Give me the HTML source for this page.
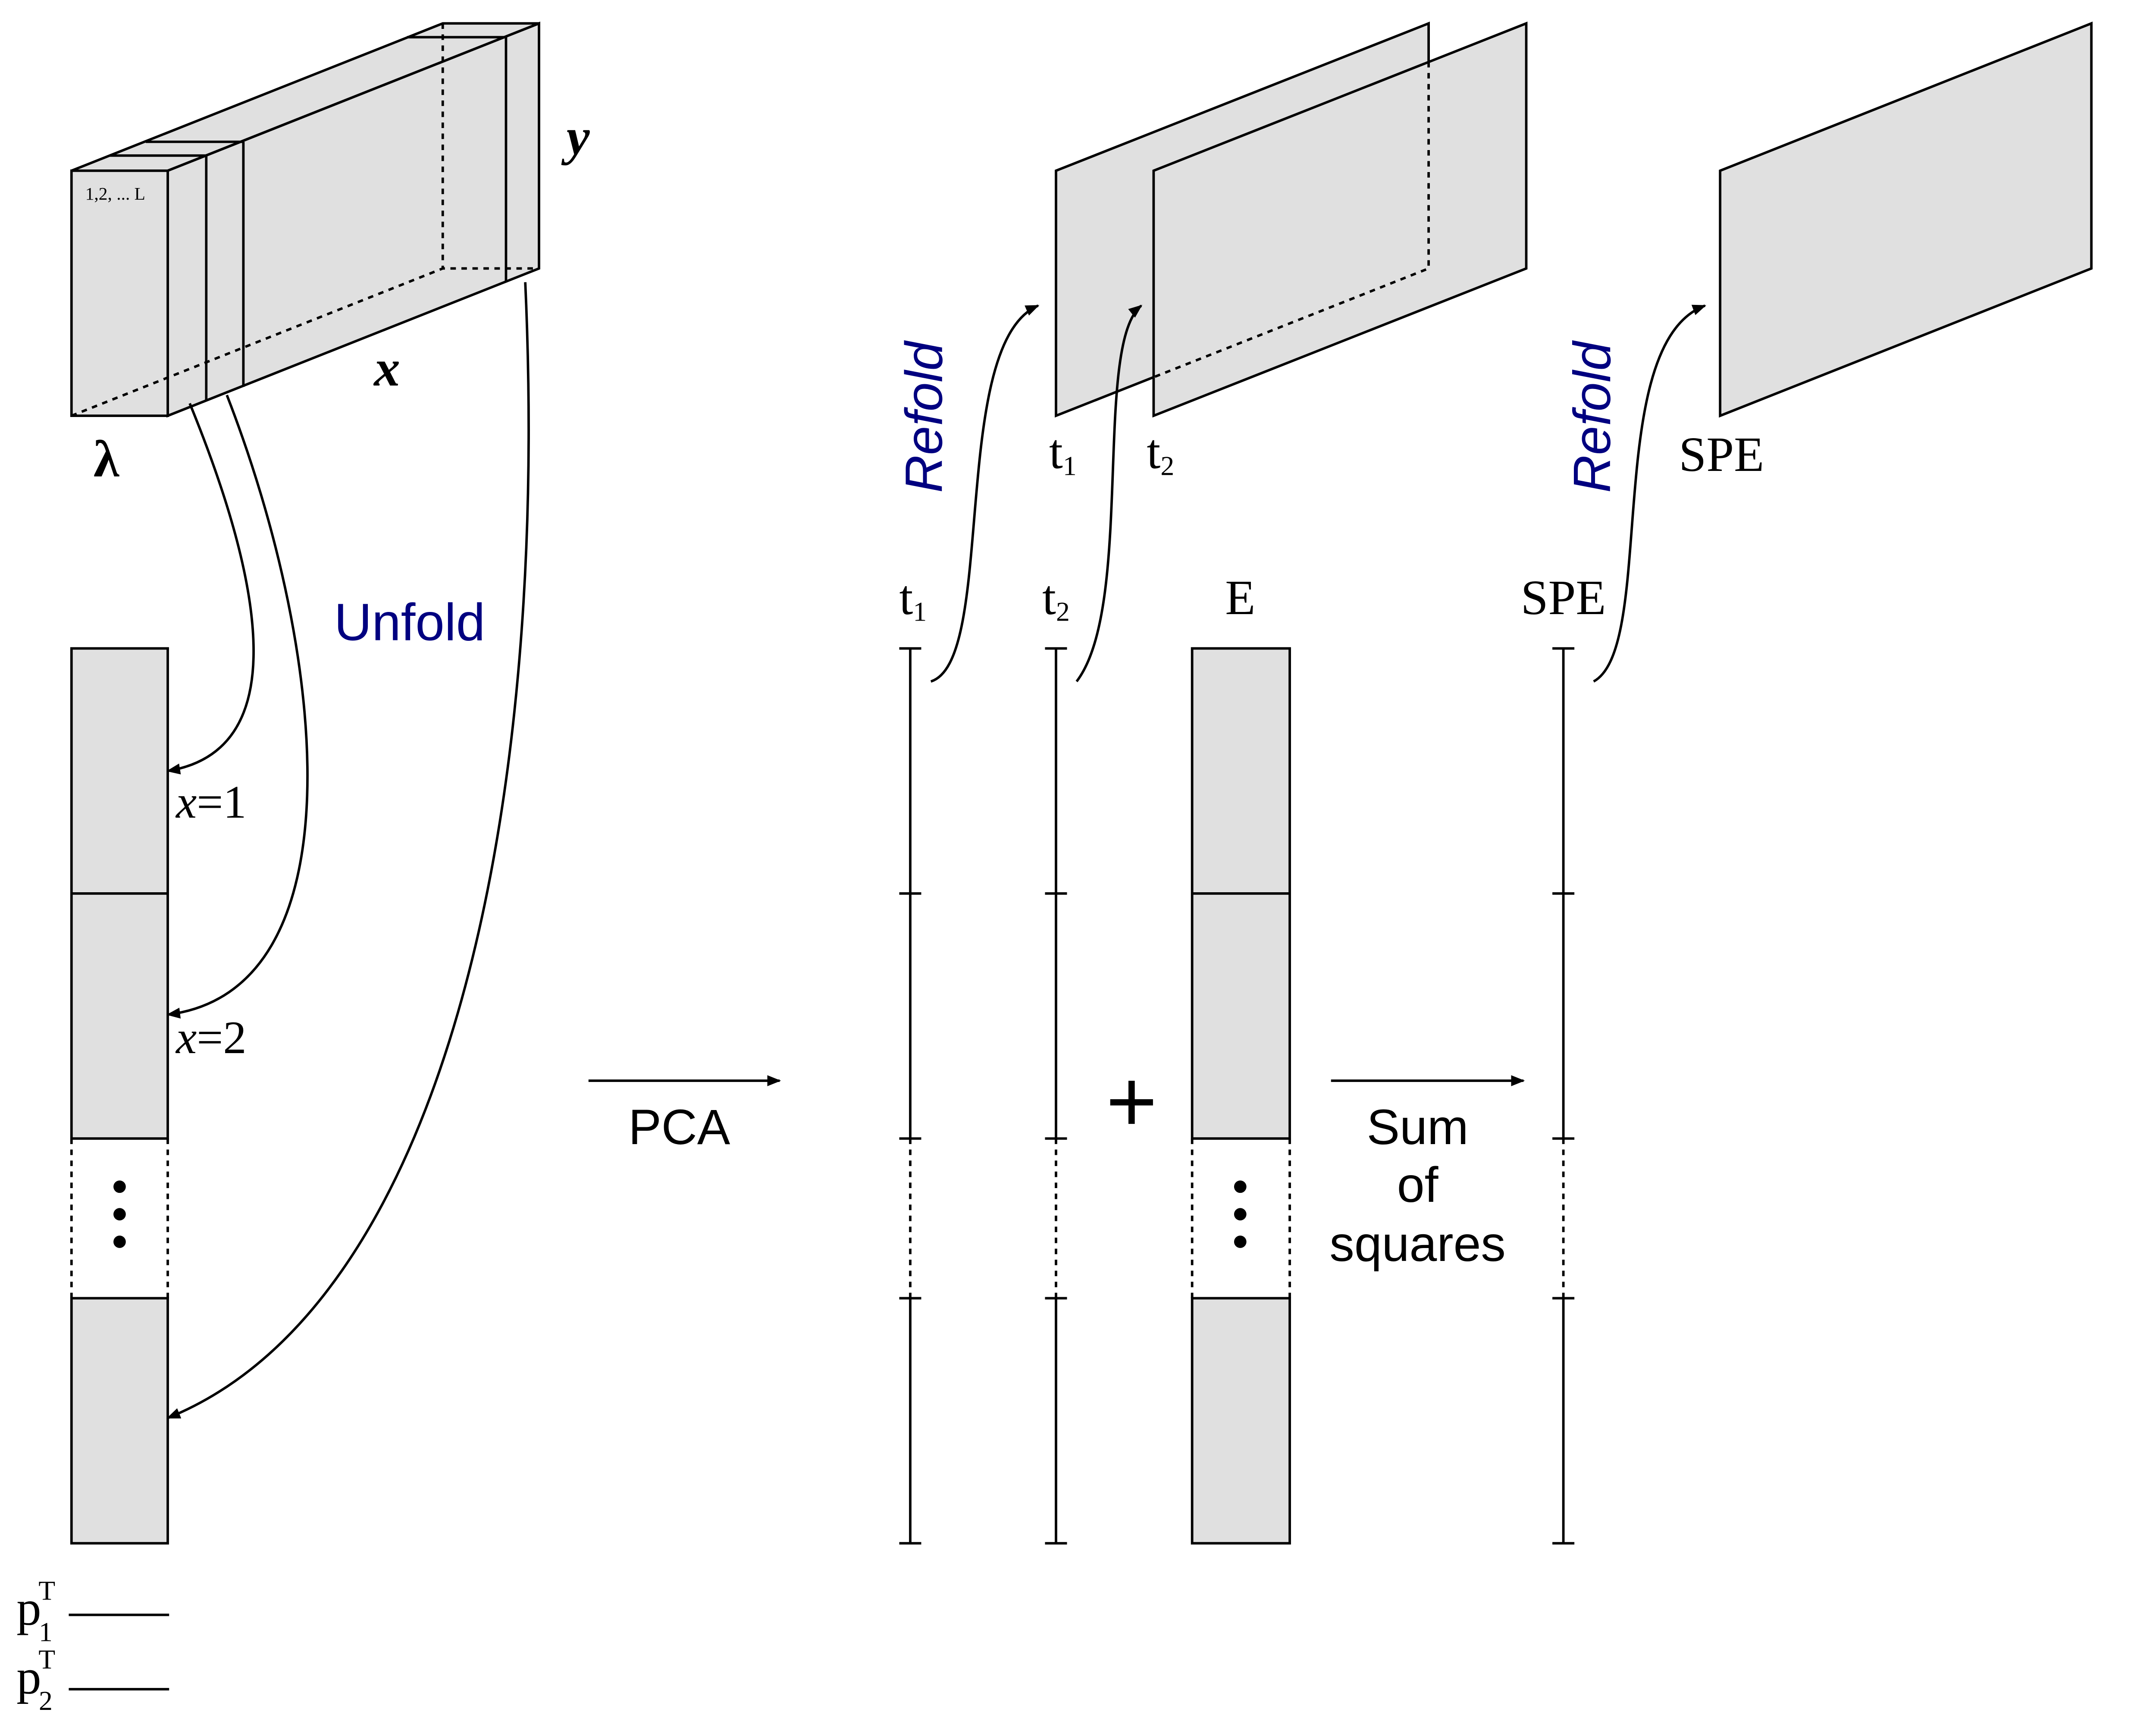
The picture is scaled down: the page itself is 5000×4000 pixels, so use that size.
<!DOCTYPE html>
<html><head><meta charset="utf-8"><style>html,body{margin:0;padding:0;background:#fff}svg{display:block}</style></head>
<body>
<svg width="5000" height="4000" viewBox="0 0 1568 1253" preserveAspectRatio="none" xmlns="http://www.w3.org/2000/svg">
<defs><marker id="ah" markerWidth="10" markerHeight="8" refX="9" refY="4" orient="auto" markerUnits="userSpaceOnUse"><path d="M0,0 L10,4 L0,8 Z" fill="#000"/></marker></defs>
<g stroke="#000" stroke-width="1.8" fill="none" font-family="Liberation Serif, serif">
<g>
<polygon points="52,124 322,17 392,17 122,124" fill="#e0e0e0"/>
<polygon points="122,124 392,17 392,195 122,302" fill="#e0e0e0"/>
<rect x="52" y="124" width="70" height="178" fill="#e0e0e0"/>
<path d="M52,302 L322,195 L392,195 M322,17 L322,195" stroke-dasharray="4,4"/>
<path d="M150,113 L150,291 M80,113 L150,113 M177,103 L177,281 M106,103 L177,103 M368,27 L368,205 M296,27 L368,27"/>
</g>
<text x="62" y="145" font-size="13" fill="#000" stroke="none">1,2, ... L</text>
<text x="412" y="112" font-size="38" font-weight="bold" font-style="italic" fill="#000" stroke="none">y</text>
<text x="272" y="280" font-size="38" font-weight="bold" font-style="italic" fill="#000" stroke="none">x</text>
<text x="68" y="346" font-size="38" font-weight="bold" fill="#000" stroke="none">λ</text>
<g>
<rect x="52" y="471" width="70" height="356" fill="#e0e0e0"/>
<line x1="52" y1="649" x2="122" y2="649"/>
<rect x="52" y="943" width="70" height="178" fill="#e0e0e0"/>
<path d="M52,827 L52,943 M122,827 L122,943" stroke-dasharray="4,4"/>
<g fill="#000" stroke="none"><circle cx="87" cy="862" r="4.5"/><circle cx="87" cy="882" r="4.5"/><circle cx="87" cy="902" r="4.5"/></g>
</g>
<path d="M138,293 C190,420 215,545 122,560" marker-end="url(#ah)"/>
<path d="M165,287 C240,480 260,720 122,737" marker-end="url(#ah)"/>
<path d="M382,205 C400,600 320,950 122,1030" marker-end="url(#ah)"/>
<text x="128" y="594" font-size="34" fill="#000" stroke="none"><tspan font-style="italic">x</tspan>=1</text>
<text x="128" y="765" font-size="34" fill="#000" stroke="none"><tspan font-style="italic">x</tspan>=2</text>
<text x="243" y="465" font-size="38" fill="#000080" stroke="none" font-family="Liberation Sans, sans-serif">Unfold</text>
<line x1="428" y1="785" x2="567" y2="785" marker-end="url(#ah)"/>
<text x="494" y="831" font-size="36" text-anchor="middle" fill="#000" stroke="none" font-family="Liberation Sans, sans-serif">PCA</text>
<g>
<path d="M662,471 L662,827 M662,943 L662,1121 M654,471 L670,471 M654,649 L670,649 M654,827 L670,827 M654,943 L670,943 M654,1121 L670,1121"/>
<path d="M662,827 L662,943" stroke-dasharray="4,4"/></g>
<g>
<path d="M768,471 L768,827 M768,943 L768,1121 M760,471 L776,471 M760,649 L776,649 M760,827 L776,827 M760,943 L776,943 M760,1121 L776,1121"/>
<path d="M768,827 L768,943" stroke-dasharray="4,4"/></g>
<g>
<path d="M1137,471 L1137,827 M1137,943 L1137,1121 M1129,471 L1145,471 M1129,649 L1145,649 M1129,827 L1145,827 M1129,943 L1145,943 M1129,1121 L1145,1121"/>
<path d="M1137,827 L1137,943" stroke-dasharray="4,4"/></g>
<g>
<rect x="867" y="471" width="71" height="356" fill="#e0e0e0"/>
<line x1="867" y1="649" x2="938" y2="649"/>
<rect x="867" y="943" width="71" height="178" fill="#e0e0e0"/>
<path d="M867,827 L867,943 M938,827 L938,943" stroke-dasharray="4,4"/>
<g fill="#000" stroke="none"><circle cx="902" cy="862" r="4.5"/><circle cx="902" cy="882" r="4.5"/><circle cx="902" cy="902" r="4.5"/></g>
</g>
<g fill="#000" stroke="none" font-size="36">
<text x="654" y="446">t<tspan font-size="20" dy="5">1</tspan></text>
<text x="758" y="446">t<tspan font-size="20" dy="5">2</tspan></text>
<text x="902" y="446" text-anchor="middle">E</text>
<text x="1137" y="446" text-anchor="middle">SPE</text>
<text x="823" y="822" font-size="64" text-anchor="middle" font-family="Liberation Sans, sans-serif">+</text>
<g font-family="Liberation Sans, sans-serif" font-size="36" text-anchor="middle">
<text x="1031" y="831">Sum</text><text x="1031" y="873">of</text><text x="1031" y="916">squares</text></g>
</g>
<line x1="968" y1="785" x2="1108" y2="785" marker-end="url(#ah)"/>
<polygon points="768,124 1039,17 1039,195 768,302" fill="#e0e0e0"/>
<polygon points="839,124 1110,17 1110,195 839,302" fill="#e0e0e0"/>
<path d="M1039,45 L1039,195 L839,274" stroke-dasharray="4,4"/>
<polygon points="1251,124 1521,17 1521,195 1251,302" fill="#e0e0e0"/>
<g fill="#000" stroke="none" font-size="36">
<text x="763" y="340">t<tspan font-size="20" dy="5">1</tspan></text>
<text x="834" y="340">t<tspan font-size="20" dy="5">2</tspan></text>
<text x="1252" y="342" text-anchor="middle">SPE</text>
</g>
<path d="M677,495 C725,480 690,250 755,222" marker-end="url(#ah)"/>
<path d="M783,495 C825,440 795,250 830,222" marker-end="url(#ah)"/>
<path d="M1159,495 C1205,470 1165,250 1240,222" marker-end="url(#ah)"/>
<g fill="#000080" stroke="none" font-size="38" font-family="Liberation Sans, sans-serif" font-style="italic">
<text transform="translate(685,358) rotate(-90)">Refold</text>
<text transform="translate(1171,358) rotate(-90)">Refold</text>
</g>
<g fill="#000" stroke="none" font-size="36">
<text x="12" y="1180">p<tspan font-size="20" dx="-2" dy="-18">T</tspan><tspan font-size="20" dx="-12" dy="30">1</tspan></text>
<text x="12" y="1230">p<tspan font-size="20" dx="-2" dy="-18">T</tspan><tspan font-size="20" dx="-12" dy="30">2</tspan></text>
</g>
<line x1="50" y1="1173" x2="123" y2="1173"/>
<line x1="50" y1="1227" x2="123" y2="1227"/>
</g>
</svg>
</body></html>
